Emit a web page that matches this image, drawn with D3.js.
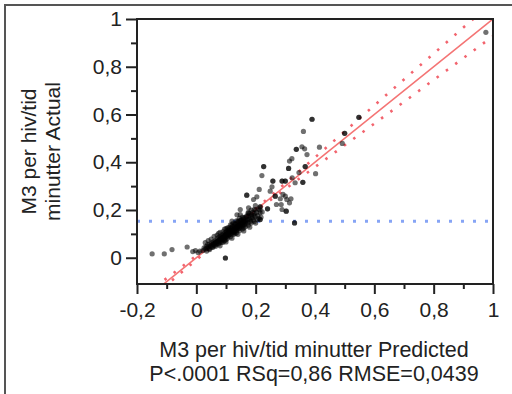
<!DOCTYPE html>
<html>
<head>
<meta charset="utf-8">
<script src="https://cdn.jsdelivr.net/npm/d3@7"></script>
<style>
  body { margin: 0; background: #fff; }
  svg { display: block; font-family: "Liberation Sans", Arial, sans-serif; }
  .tick text { fill: #222; }
</style>
</head>
<body>
<svg id="chart" width="512" height="394"></svg>
<script>
// Actual by Predicted: [predicted, actual]; repeated entries are overlapping observations
const points = [
  // left tail
  [-0.149, 0.016], [-0.108, 0.016], [-0.082, 0.034], [-0.031, 0.045], [-0.012, 0.026],
  [-0.003, 0.030], [0.006, 0.022], [0.012, 0.028], [0.098, -0.001], [0.098, -0.001],
  // dense band
  [0.022, 0.030], [0.026, 0.041], [0.030, 0.036], [0.033, 0.047], [0.036, 0.040], [0.038, 0.055],
  [0.041, 0.047], [0.043, 0.038], [0.045, 0.058], [0.048, 0.050], [0.050, 0.044], [0.052, 0.062],
  [0.054, 0.055], [0.056, 0.048], [0.058, 0.068], [0.060, 0.060], [0.062, 0.052], [0.064, 0.072],
  [0.066, 0.063], [0.068, 0.057], [0.070, 0.080], [0.072, 0.070], [0.074, 0.062], [0.076, 0.085],
  [0.078, 0.075], [0.080, 0.066], [0.081, 0.090], [0.083, 0.080], [0.085, 0.071], [0.087, 0.095],
  [0.088, 0.086], [0.090, 0.077], [0.092, 0.100], [0.094, 0.090], [0.095, 0.082], [0.097, 0.105],
  [0.099, 0.095], [0.100, 0.086], [0.102, 0.110], [0.104, 0.100], [0.105, 0.091], [0.107, 0.116],
  [0.109, 0.104], [0.110, 0.095], [0.112, 0.120], [0.114, 0.108], [0.115, 0.098], [0.117, 0.125],
  [0.119, 0.113], [0.120, 0.103], [0.122, 0.130], [0.124, 0.117], [0.125, 0.106], [0.127, 0.133],
  [0.129, 0.121], [0.130, 0.110], [0.132, 0.140], [0.134, 0.126], [0.135, 0.115], [0.137, 0.145],
  [0.139, 0.131], [0.140, 0.119], [0.142, 0.150], [0.144, 0.136], [0.145, 0.124], [0.147, 0.155],
  [0.149, 0.140], [0.150, 0.128], [0.152, 0.158], [0.154, 0.145], [0.156, 0.133], [0.158, 0.162],
  [0.160, 0.150], [0.162, 0.138], [0.164, 0.167], [0.166, 0.154], [0.168, 0.143], [0.170, 0.172],
  [0.172, 0.158], [0.175, 0.148], [0.178, 0.176], [0.180, 0.163], [0.183, 0.153], [0.186, 0.180],
  [0.189, 0.168], [0.192, 0.158], [0.195, 0.185], [0.199, 0.172], [0.203, 0.190], [0.207, 0.178],
  [0.211, 0.165], [0.215, 0.188],
  [0.060, 0.058], [0.070, 0.068], [0.080, 0.078], [0.090, 0.088], [0.095, 0.093], [0.100, 0.100],
  [0.110, 0.110], [0.115, 0.113], [0.120, 0.120], [0.130, 0.125], [0.135, 0.128], [0.140, 0.135],
  [0.150, 0.140], [0.160, 0.152], [0.105, 0.125], [0.125, 0.145], [0.145, 0.165], [0.090, 0.065],
  [0.130, 0.100], [0.160, 0.125], [0.175, 0.190], [0.185, 0.200], [0.100, 0.075],
  // band upper edge
  [0.030, 0.063], [0.040, 0.072], [0.050, 0.078], [0.060, 0.090], [0.070, 0.095], [0.080, 0.106],
  [0.090, 0.110], [0.100, 0.122], [0.110, 0.126], [0.120, 0.138], [0.130, 0.142], [0.140, 0.153],
  [0.150, 0.158], [0.160, 0.168], [0.170, 0.175], [0.180, 0.186], [0.190, 0.190], [0.200, 0.200],
  [0.210, 0.205],
  [0.075, 0.102], [0.095, 0.120], [0.115, 0.138], [0.135, 0.155], [0.155, 0.170], [0.175, 0.186],
  [0.195, 0.202], [0.215, 0.200], [0.222, 0.192],
  // band lower edge
  [0.035, 0.028], [0.045, 0.034], [0.055, 0.043], [0.065, 0.048], [0.075, 0.058], [0.085, 0.064],
  [0.095, 0.072], [0.105, 0.082], [0.115, 0.088], [0.125, 0.098], [0.135, 0.104], [0.145, 0.113],
  [0.155, 0.120], [0.165, 0.130], [0.175, 0.136], [0.185, 0.146], [0.195, 0.152], [0.205, 0.160],
  [0.080, 0.050], [0.100, 0.066], [0.120, 0.082], [0.140, 0.098], [0.160, 0.112], [0.180, 0.128],
  [0.200, 0.145], [0.218, 0.170],
  // band core repeats
  [0.075, 0.072], [0.085, 0.084], [0.105, 0.104], [0.125, 0.118], [0.145, 0.135], [0.155, 0.146],
  [0.165, 0.150], [0.175, 0.160], [0.185, 0.170], [0.195, 0.176], [0.065, 0.066], [0.118, 0.112],
  [0.128, 0.112], [0.138, 0.122], [0.148, 0.130], [0.108, 0.096], [0.098, 0.088], [0.158, 0.140],
  // upper scatter
  [0.120, 0.153], [0.137, 0.180], [0.148, 0.181], [0.148, 0.202], [0.170, 0.262], [0.170, 0.262],
  [0.176, 0.209], [0.199, 0.218], [0.215, 0.213], [0.215, 0.213], [0.193, 0.244], [0.204, 0.255],
  [0.212, 0.286], [0.215, 0.160], [0.215, 0.160], [0.221, 0.344], [0.227, 0.382], [0.227, 0.382],
  [0.240, 0.205], [0.240, 0.205], [0.249, 0.279], [0.255, 0.297], [0.258, 0.321], [0.258, 0.321],
  [0.266, 0.258], [0.266, 0.258], [0.270, 0.223], [0.286, 0.223], [0.283, 0.247], [0.289, 0.321],
  [0.289, 0.321], [0.300, 0.321], [0.300, 0.321], [0.292, 0.265], [0.300, 0.258], [0.305, 0.244],
  [0.303, 0.195], [0.303, 0.195], [0.289, 0.202], [0.314, 0.230], [0.319, 0.247], [0.311, 0.374],
  [0.311, 0.374], [0.314, 0.405], [0.322, 0.415], [0.323, 0.335], [0.331, 0.146], [0.331, 0.146],
  [0.333, 0.314], [0.337, 0.454], [0.337, 0.454], [0.346, 0.357], [0.359, 0.316], [0.359, 0.316],
  [0.361, 0.529], [0.356, 0.465], [0.365, 0.456], [0.373, 0.432], [0.367, 0.382], [0.367, 0.382],
  [0.390, 0.580], [0.390, 0.580], [0.402, 0.352], [0.415, 0.463], [0.492, 0.479], [0.500, 0.521],
  [0.500, 0.521], [0.548, 0.588], [0.548, 0.588], [0.976, 0.944]
];

// fit line (actual = predicted) and confidence half-width
const fitX = [-0.2, 1.0];
const bandX = [-0.2, -0.1, 0, 0.1, 0.15, 0.2, 0.3, 0.4, 0.5, 0.6, 0.7, 0.8, 0.9, 1.0];
const bandHalf = [0.020, 0.014, 0.009, 0.005, 0.004, 0.005, 0.012, 0.020, 0.029, 0.038, 0.047, 0.055, 0.064, 0.072];
const meanActual = 0.153;

const xMajor = [-0.2, 0, 0.2, 0.4, 0.6, 0.8, 1];
const xMinor = [-0.1, 0.1, 0.3, 0.5, 0.7, 0.9];
const yMajor = [0, 0.2, 0.4, 0.6, 0.8, 1];
const yMinor = [0.1, 0.3, 0.5, 0.7, 0.9];

const yTitle = ["M3 per hiv/tid", "minutter Actual"];
const xTitle = ["M3 per hiv/tid minutter Predicted", "P<.0001 RSq=0,86 RMSE=0,0439"];

const svg = d3.select('#chart');
const plotL = 137, plotR = 493, plotT = 19, plotB = 284;

const x = d3.scaleLinear().domain([-0.2, 1]).range([plotL, plotR]);
const y = d3.scaleLinear().domain([-0.11, 1.0]).range([plotB, plotT]);

const nb = d3.formatLocale({ decimal: ',', thousands: '.', grouping: [3], currency: ['', ''], minus: '-' });
const fmt = nb.format('.1~f');

// outer frame
svg.append('path')
  .attr('d', 'M5,394 V5 H512')
  .attr('fill', 'none')
  .attr('stroke', '#555')
  .attr('stroke-width', 2);

svg.append('clipPath').attr('id', 'plotclip')
  .append('rect').attr('x', plotL).attr('y', plotT).attr('width', plotR - plotL).attr('height', plotB - plotT);

const plot = svg.append('g').attr('clip-path', 'url(#plotclip)');

// mean line
plot.append('line')
  .attr('x1', plotL).attr('x2', plotR)
  .attr('y1', y(meanActual)).attr('y2', y(meanActual))
  .attr('stroke', '#86a4f5')
  .attr('stroke-width', 3)
  .attr('stroke-dasharray', '3,9');

// fit + confidence curves
plot.append('line')
  .attr('x1', x(fitX[0])).attr('y1', y(fitX[0]))
  .attr('x2', x(fitX[1])).attr('y2', y(fitX[1]))
  .attr('stroke', '#f47474')
  .attr('stroke-width', 1.6);

const band = d3.line().curve(d3.curveMonotoneX);
[1, -1].forEach(s => {
  plot.append('path')
    .attr('d', band(bandX.map((v, i) => [x(v), y(v + s * bandHalf[i])])))
    .attr('fill', 'none')
    .attr('stroke', '#f2646e')
    .attr('stroke-width', 2.6)
    .attr('stroke-dasharray', '2.5,9');
});

// points
plot.append('g').selectAll('circle')
  .data(points)
  .enter().append('circle')
  .attr('cx', d => x(d[0]))
  .attr('cy', d => y(d[1]))
  .attr('r', 2.6)
  .attr('fill', '#000')
  .attr('opacity', 0.56);

// plot frame
svg.append('rect')
  .attr('x', plotL).attr('y', plotT)
  .attr('width', plotR - plotL).attr('height', plotB - plotT)
  .attr('fill', 'none')
  .attr('stroke', '#222')
  .attr('stroke-width', 2);

// axes
svg.append('g').attr('transform', `translate(0,${plotB})`)
  .call(d3.axisBottom(x).tickValues(xMajor).tickSize(10).tickPadding(8).tickFormat(fmt));
svg.append('g').attr('transform', `translate(0,${plotB})`)
  .call(d3.axisBottom(x).tickValues(xMinor).tickSize(5).tickFormat(''));
svg.append('g').attr('transform', `translate(${plotL},0)`)
  .call(d3.axisLeft(y).tickValues(yMajor).tickSize(11).tickPadding(4).tickFormat(fmt));
svg.append('g').attr('transform', `translate(${plotL},0)`)
  .call(d3.axisLeft(y).tickValues(yMinor).tickSize(6).tickFormat(''));

svg.selectAll('.domain').remove();
svg.selectAll('.tick line').attr('stroke', '#222').attr('stroke-width', 2);
svg.selectAll('.tick text').attr('font-size', 21).attr('font-family', '"Liberation Sans", Arial, sans-serif');

// titles
svg.append('g').selectAll('text')
  .data(xTitle)
  .enter().append('text')
  .attr('x', (plotL + plotR) / 2 - 1)
  .attr('y', (d, i) => 357 + i * 24)
  .attr('text-anchor', 'middle')
  .attr('font-size', 21.5)
  .attr('fill', '#222')
  .text(d => d);

svg.append('g').selectAll('text')
  .data(yTitle)
  .enter().append('text')
  .attr('transform', (d, i) => `translate(${36 + i * 24},${(plotT + plotB) / 2}) rotate(-90)`)
  .attr('text-anchor', 'middle')
  .attr('font-size', 21)
  .attr('fill', '#222')
  .text(d => d);
</script>
</body>
</html>
